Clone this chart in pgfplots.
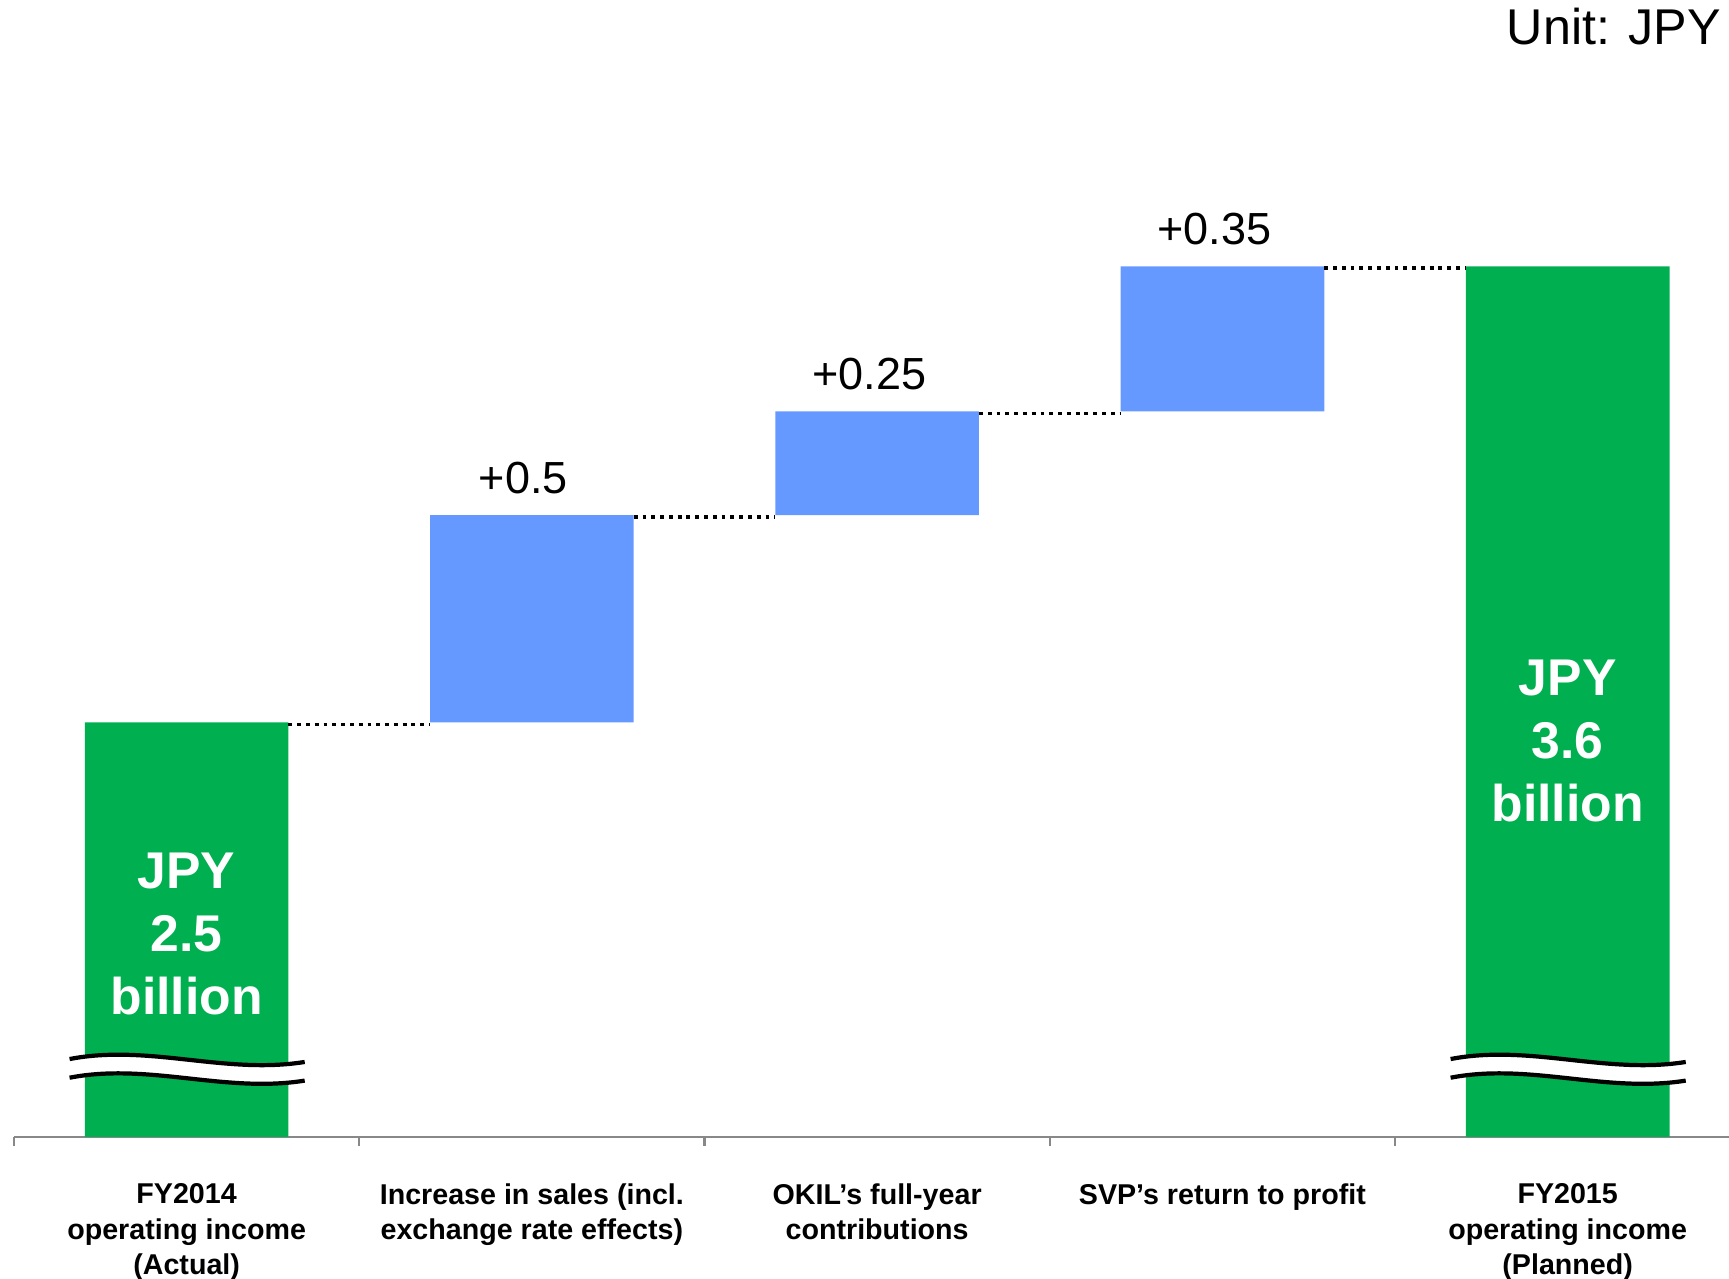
\documentclass[border=0pt]{standalone}
\usepackage{fontspec}
\setmainfont{Liberation Sans}
\usepackage{pgfplots}
\pgfplotsset{compat=1.18}
\definecolor{bargreen}{HTML}{00B050}
\definecolor{barblue}{HTML}{6699FF}
\definecolor{axisgray}{HTML}{888888}
\tikzset{dots/.style={black, line width=1.1pt, dash pattern=on 1.1pt off 1.4pt},
         vlab/.style={anchor=base, inner sep=0pt, font=\fontsize{12.8}{15}\selectfont, yshift=2.2mm},
         glab/.style={align=center, anchor=center, inner sep=0pt, text=white, font=\bfseries\fontsize{14.7}{18}\selectfont}}
\begin{document}
\begin{tikzpicture}
\useasboundingbox (-0.14cm,-1.42cm) rectangle (17.15cm,11.37cm);
\begin{axis}[
  scale only axis,
  width=17.15cm, height=11.37cm,
  xmin=-0.5, xmax=4.4673,
  ymin=1.5, ymax=4.2424,
  clip=false,
  ybar stacked,
  bar width=0.59,
  axis x line=bottom,
  axis y line=none,
  axis line style={-, draw=axisgray, line width=0.8pt},
  xtick={0,1,2,3,4},
  xticklabels={{FY2014\\operating income\\(Actual)},
               {Increase in sales (incl.\\exchange rate effects)},
               {OKIL’s full-year\\contributions},
               {SVP’s return to profit},
               {FY2015\\operating income\\(Planned)}},
  major tick length=0pt,
  minor xtick={-0.5,0.5,1.5,2.5,3.5},
  minor tick length=0.9mm,
  tick align=outside,
  minor tick style={draw=axisgray, line width=0.6pt},
  xticklabel style={font=\bfseries\fontsize{8.15}{10.1}\selectfont, align=center, anchor=north, inner sep=0pt, yshift=-4.6mm},
  after end axis/.code={
    \draw[dots] (axis cs:0.295,2.495) -- (axis cs:0.705,2.495);
    \draw[dots] (axis cs:1.295,2.995) -- (axis cs:1.705,2.995);
    \draw[dots] (axis cs:2.295,3.245) -- (axis cs:2.705,3.245);
    \draw[dots] (axis cs:3.295,3.595) -- (axis cs:3.705,3.595);
    \node[vlab] at (axis cs:0.975,3.0) {+0.5};
    \node[vlab] at (axis cs:1.977,3.25) {+0.25};
    \node[vlab] at (axis cs:2.977,3.6) {+0.35};
    \node[glab] at (axis cs:0,1.99) {JPY\\2.5\\billion};
    \node[glab] at (axis cs:4,2.455) {JPY\\3.6\\billion};
    \fill[white] (axis cs:-0.339,1.688) .. controls (axis cs:-0.11,1.725) and (axis cs:0.11,1.650) .. (axis cs:0.342,1.681)
      -- (axis cs:0.342,1.636) .. controls (axis cs:0.11,1.605) and (axis cs:-0.11,1.680) .. (axis cs:-0.339,1.643) -- cycle;
    \draw[black, line width=1.2pt] (axis cs:-0.339,1.688) .. controls (axis cs:-0.11,1.725) and (axis cs:0.11,1.650) .. (axis cs:0.342,1.681);
    \draw[black, line width=1.2pt] (axis cs:-0.339,1.643) .. controls (axis cs:-0.11,1.680) and (axis cs:0.11,1.605) .. (axis cs:0.342,1.636);
    \fill[white] (axis cs:3.661,1.688) .. controls (axis cs:3.89,1.725) and (axis cs:4.11,1.650) .. (axis cs:4.342,1.681)
      -- (axis cs:4.342,1.636) .. controls (axis cs:4.11,1.605) and (axis cs:3.89,1.680) .. (axis cs:3.661,1.643) -- cycle;
    \draw[black, line width=1.2pt] (axis cs:3.661,1.688) .. controls (axis cs:3.89,1.725) and (axis cs:4.11,1.650) .. (axis cs:4.342,1.681);
    \draw[black, line width=1.2pt] (axis cs:3.661,1.643) .. controls (axis cs:3.89,1.680) and (axis cs:4.11,1.605) .. (axis cs:4.342,1.636);
    \node[anchor=base east, inner sep=0pt, font=\fontsize{14.3}{17}\selectfont] at (axis cs:4.446,4.134) {Unit: JPY};
  },
]
% invisible base
\addplot[draw=none, fill=none] coordinates {(0,1.5) (1,2.5) (2,3.0) (3,3.25) (4,1.5)};
% green totals (above base)
\addplot[draw=none, fill=bargreen] coordinates {(0,1.0) (1,0) (2,0) (3,0) (4,2.1)};
% blue increments
\addplot[draw=none, fill=barblue] coordinates {(0,0) (1,0.5) (2,0.25) (3,0.35) (4,0)};
\end{axis}
\end{tikzpicture}
\end{document}
